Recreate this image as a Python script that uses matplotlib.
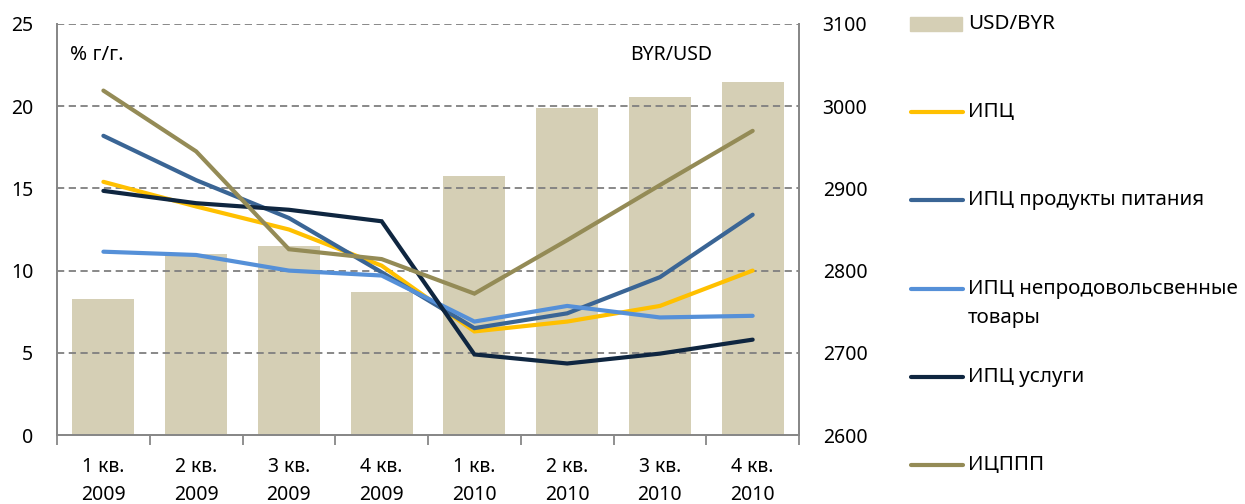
import matplotlib.pyplot as plt
from matplotlib.lines import Line2D
from matplotlib.patches import Rectangle
import numpy as np

plt.rcParams['font.family'] = ['Noto Sans', 'DejaVu Sans']

quarters = ["1 кв.\n2009", "2 кв.\n2009", "3 кв.\n2009", "4 кв.\n2009",
            "1 кв.\n2010", "2 кв.\n2010", "3 кв.\n2010", "4 кв.\n2010"]
usd_byr = [2765, 2820, 2830, 2774, 2915, 2998, 3011, 3030]
ipc = [15.4, 13.9, 12.5, 10.3, 6.3, 6.9, 7.85, 10.0]
ipc_food = [18.2, 15.5, 13.2, 9.9, 6.5, 7.4, 9.6, 13.4]
ipc_nonfood = [11.15, 10.95, 10.0, 9.7, 6.9, 7.85, 7.15, 7.25]
ipc_services = [14.85, 14.1, 13.7, 13.0, 4.9, 4.35, 4.95, 5.8]
icppp = [20.95, 17.25, 11.3, 10.7, 8.6, 11.85, 15.2, 18.5]

bar_color = '#D5CFB5'
series = [
    ("ИПЦ", ipc, '#FFC000'),
    ("ИПЦ продукты питания", ipc_food, '#3A6595'),
    ("ИПЦ непродовольсвенные\nтовары", ipc_nonfood, '#5590D8'),
    ("ИПЦ услуги", ipc_services, '#0F2640'),
    ("ИЦППП", icppp, '#948B56'),
]

fs = 14
lfs = 14.8
grey = '#878787'
x = np.arange(len(quarters))

fig = plt.figure(figsize=(12.45, 5.04), dpi=100)
ax = fig.add_axes([0.0458, 0.1369, 0.596, 0.8155])
ax2 = ax.twinx()

ax2.bar(x, usd_byr, width=0.67, color=bar_color, zorder=1)
ax2.set_ylim(2600, 3100)
ax2.set_yticks([2600, 2700, 2800, 2900, 3000, 3100])

ax.set_zorder(ax2.get_zorder() + 1)
ax.patch.set_visible(False)
for label, vals, col in series:
    ax.plot(x, vals, color=col, lw=3, solid_capstyle='round', solid_joinstyle='miter', zorder=3)

ax.set_xlim(-0.5, len(quarters) - 0.5)
ax.set_ylim(0, 25)
ax.set_yticks([0, 5, 10, 15, 20, 25])
ax.set_xticks(x)
ax.set_xticklabels(quarters, fontsize=fs, linespacing=1.55)
ax.set_xticks(np.arange(-0.5, len(quarters)), minor=True)
ax.tick_params(axis='x', which='major', length=0, pad=16)
ax.tick_params(axis='x', which='minor', length=7, color=grey, width=1.3)
ax.tick_params(axis='y', length=0, pad=17, labelsize=fs)
ax2.tick_params(axis='y', length=0, pad=17, labelsize=fs)

# dashed gridlines behind the lines but over the bars
for yv in [5, 10, 15, 20, 25]:
    ax.axhline(yv, color='#7F7F7F', lw=1.3, ls=(0, (4, 2.5)), zorder=2)

for a in (ax, ax2):
    for s in a.spines.values():
        s.set_color(grey)
        s.set_linewidth(1.3)
    a.spines['top'].set_visible(False)

ax.text(0.017, 0.925, "% г/г.", transform=ax.transAxes, fontsize=lfs, va='center')
ax.text(0.772, 0.925, "BYR/USD", transform=ax.transAxes, fontsize=fs, va='center')

# legend drawn on the right side
W, H = 1245, 504
def fx(px):
    return px / W
def fy(py):
    return 1 - py / H

fig.add_artist(Rectangle((fx(910), fy(31)), fx(962) - fx(910), fy(17) - fy(31),
                         color=bar_color, transform=fig.transFigure))
fig.text(fx(968), fy(24), "USD/BYR", fontsize=lfs, va='center')
rows = [112, 200, 289, 377, 465]
for (label, vals, col), ry in zip(series, rows):
    fig.add_artist(Line2D([fx(911), fx(963)], [fy(ry), fy(ry)], color=col, lw=3,
                          solid_capstyle='round', transform=fig.transFigure))
    fig.text(fx(968), fy(ry), label.split("\n")[0], fontsize=lfs, va='center')
    if "\n" in label:
        fig.text(fx(968), fy(ry + 29), label.split("\n")[1], fontsize=lfs, va='center')

fig.savefig("out.png", dpi=100)
